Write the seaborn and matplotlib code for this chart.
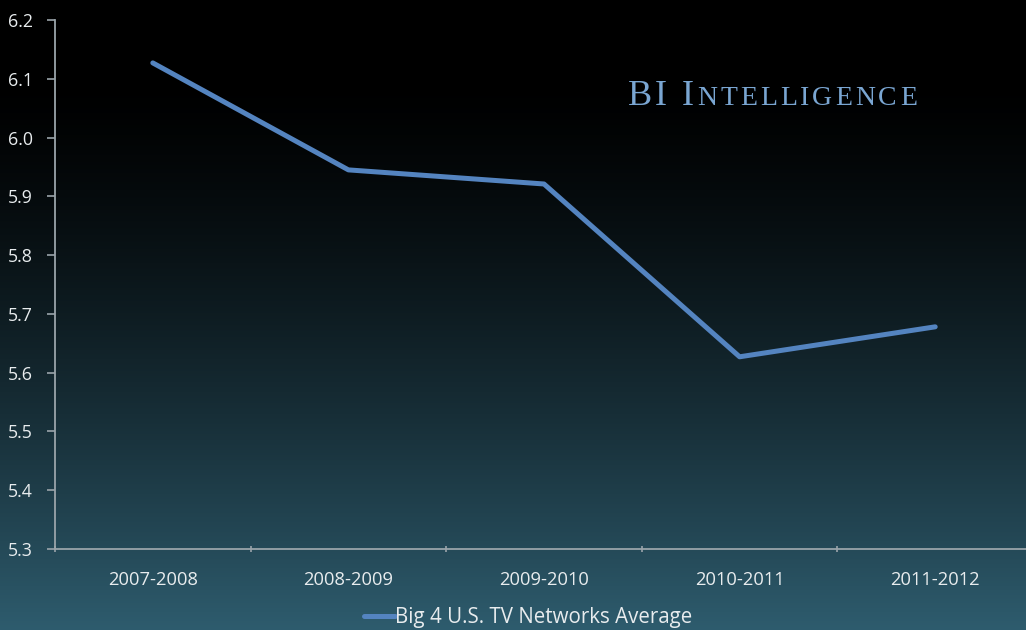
import numpy as np
import matplotlib
matplotlib.use("Agg")
import matplotlib.pyplot as plt
import seaborn as sns
from matplotlib.transforms import offset_copy
from matplotlib.lines import Line2D

seasons = ["2007-2008", "2008-2009", "2009-2010", "2010-2011", "2011-2012"]
ratings = [6.127, 5.945, 5.921, 5.627, 5.678]
y_ticks = [5.3, 5.4, 5.5, 5.6, 5.7, 5.8, 5.9, 6.0, 6.1, 6.2]
series_name = "Big 4 U.S. TV Networks Average"
brand_text = "BI Intelligence"

sns.set_theme(style="ticks")
plt.rcParams['font.family'] = ['Open Sans', 'DejaVu Sans']

fig = plt.figure(figsize=(10.26, 6.3), dpi=100)

# background gradient
bg = fig.add_axes([0, 0, 1, 1], zorder=-10)
t = np.linspace(0, 1, 256)[:, None]
g = np.clip((t - 0.12) / 0.88, 0, 1) ** 1.4
top = np.array([0.0, 0.0, 0.0])
bot = np.array([0.18, 0.36, 0.43])
img = top[None, None, :] * (1 - g[..., None]) + bot[None, None, :] * g[..., None]
img = np.repeat(img, 4, axis=1)
bg.imshow(img, aspect="auto", extent=[0, 1, 0, 1], origin="upper")
bg.axis("off")

ax = fig.add_axes([55 / 1026, (630 - 549) / 630, 978 / 1026, 529 / 630])
ax.patch.set_alpha(0)

sns.lineplot(x=seasons, y=ratings, ax=ax, color="#5484c0", linewidth=3.6,
             sort=False, legend=False)

ax.set_xlim(-0.5, 4.5)
ax.set_ylim(5.3, 6.2)
ax.set_yticks(y_ticks)
ax.set_yticklabels([f"{v:.1f}" for v in y_ticks])
ax.set_xticks(range(len(seasons)))
ax.set_xticklabels(seasons)
ax.set_xticks(np.arange(-0.5, 4.6, 1.0), minor=True)
ax.tick_params(axis="x", which="major", length=0, pad=16, labelsize=13.2, labelcolor="#e8ecee")
ax.tick_params(axis="x", which="minor", length=5, direction="inout", color="#9aa4aa", width=1.2)
ax.tick_params(axis="y", length=6, direction="out", color="#9aa4aa", width=1.2, pad=10,
               labelsize=12.8, labelcolor="#e8ecee")
for s in ["top", "right"]:
    ax.spines[s].set_visible(False)
for s in ["left", "bottom"]:
    ax.spines[s].set_color("#9aa4aa")
    ax.spines[s].set_linewidth(1.3)
ax.set_xlabel("")
ax.set_ylabel("")

# legend
handle = Line2D([], [], color="#5484c0", linewidth=3.6)
leg = fig.legend([handle], [series_name], loc="center", bbox_to_anchor=(528 / 1026, 1 - 618 / 630),
                 frameon=False, fontsize=14.8, handlelength=1.5, handletextpad=0.0,
                 labelcolor="#e8ecee")

# brand text with small caps emulation, letter by letter with tracking
fig.canvas.draw()
renderer = fig.canvas.get_renderer()
x0, y0 = 628 / 1026, 1 - 105 / 630
tr = fig.transFigure
big, small = 26, 20
first_word, second_word = brand_text.split(" ")
letters = [(c, big) for c in first_word.upper()] + [(" ", big)]
letters += [(second_word[0].upper(), big)] + [(c, small) for c in second_word[1:].upper()]
for ch, size in letters:
    if ch == " ":
        tr = offset_copy(tr, fig=fig, x=12, y=0, units="dots")
        continue
    tx = fig.text(x0, y0, ch, transform=tr, fontsize=size, color="#7aa6d2",
                  family=["Liberation Serif", "DejaVu Serif"], va="baseline", ha="left")
    w = tx.get_window_extent(renderer=renderer).width
    tr = offset_copy(tr, fig=fig, x=w + 3.0, y=0, units="dots")

fig.savefig("out.png", dpi=100)
